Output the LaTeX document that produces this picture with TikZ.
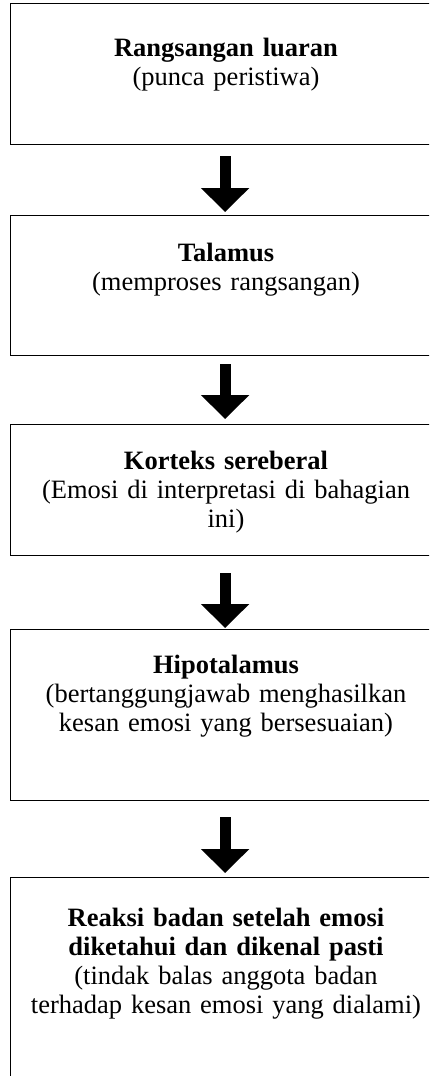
\documentclass[tikz,border=0pt]{standalone}
\usepackage{fontspec}
\setmainfont{Liberation Serif}
\usetikzlibrary{arrows.meta}
\begin{document}
\begin{tikzpicture}[x=1pt,y=-1pt,
  box/.style={draw,line width=1.2pt,rectangle,inner sep=0pt,minimum width=430pt,anchor=north west},
  txt/.style={anchor=base,align=center,text width=420pt,inner sep=0pt,font=\fontsize{26.5}{29}\selectfont},
  flow/.style={line width=11pt,-{Triangle[width=47pt,length=24pt]}}]
\useasboundingbox (0,0) rectangle (429,1076);
\clip (0,0) rectangle (429,1076);
\node[box,minimum height=141pt] (b1) at (9.5,3) {};
\node[box,minimum height=140pt] (b2) at (9.5,215) {};
\node[box,minimum height=131pt] (b3) at (9.5,424) {};
\node[box,minimum height=171pt] (b4) at (9.5,629) {};
\node[box,minimum height=230pt] (b5) at (9.5,877) {};
\node[txt] (t1) at (226,56) {\textbf{Rangsangan luaran}\\(punca peristiwa)};
\node[txt] (t2) at (226,261) {\textbf{Talamus}\\(memproses rangsangan)};
\node[txt] (t3) at (226,469) {\textbf{Korteks sereberal}\\(Emosi di interpretasi di bahagian\\ini)};
\node[txt] (t4) at (226,673) {\textbf{Hipotalamus}\\(bertanggungjawab menghasilkan\\kesan emosi yang bersesuaian)};
\node[txt] (t5) at (226,926) {\textbf{Reaksi badan setelah emosi}\\\textbf{diketahui dan dikenal pasti}\\(tindak balas anggota badan\\terhadap kesan emosi yang dialami)};
\draw[flow,shorten <=11pt,shorten >=3pt] (b1.south) -- (b2.north);
\draw[flow,shorten <=8pt,shorten >=5pt] (b2.south) -- (b3.north);
\draw[flow,shorten <=17pt,shorten >=1pt] (b3.south) -- (b4.north);
\draw[flow,shorten <=16pt,shorten >=4pt] (b4.south) -- (b5.north);
\end{tikzpicture}
\end{document}
